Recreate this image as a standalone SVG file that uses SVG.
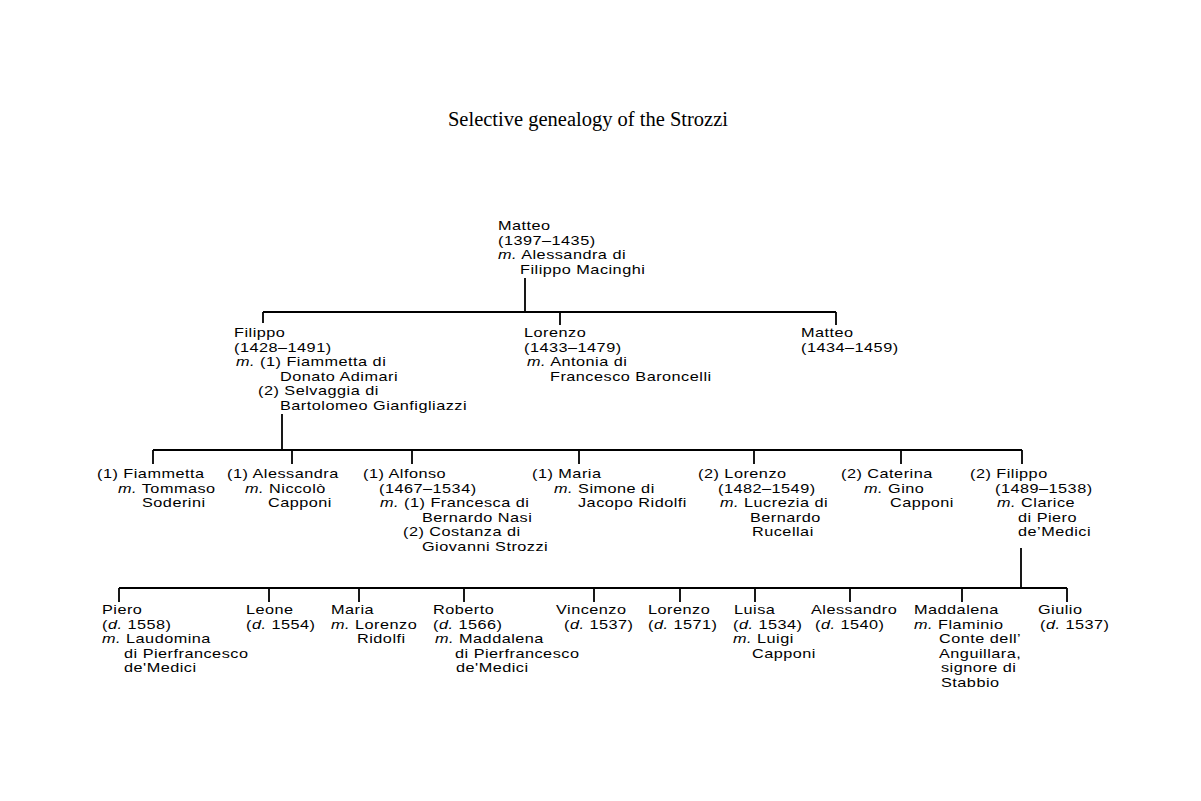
<svg xmlns="http://www.w3.org/2000/svg" width="1201" height="801" viewBox="0 0 1201 801">
<style>
.t{font-family:"Liberation Sans",Arial,sans-serif;font-size:13px;letter-spacing:0.4px;fill:#000}
.i{font-style:italic}
.title{font-family:"Liberation Serif","Times New Roman",serif;font-size:20.5px;fill:#000}
.c{stroke:#000;stroke-width:1.8;fill:none}
</style>
<rect width="1201" height="801" fill="#fff"/>
<text class="title" x="588" y="126" text-anchor="middle">Selective genealogy of the Strozzi</text>
<g id="connectors">
<path class="c" d="M525,278V312M263,312H836M263,312V323M560,312V325M836,312V325"/>
<path class="c" d="M282,414V450M153,450H1022M153,450V464M292,450V464M412,450V464M579,450V464M754,450V464M901,450V464M1022,450V464"/>
<path class="c" d="M1021,548V588M119,588H1067M119,588V602M269,588V602M359,588V602M464,588V602M594,588V602M680,588V602M755,588V602M850,588V602M962,588V602M1067,588V602"/>
</g>
<g id="nodes" transform="scale(1.25 1)">
<g id="matteo" class="t">
<text x="398.4" y="230">Matteo</text>
<text x="398.4" y="244.6">(1397–1435)</text>
<text x="398.4" y="259.2"><tspan class="i">m.</tspan> Alessandra di</text>
<text x="416" y="273.8">Filippo Macinghi</text>
</g>
<g id="filippo1" class="t">
<text x="187.2" y="337">Filippo</text>
<text x="187.2" y="351.6">(1428–1491)</text>
<text x="188.8" y="366.2"><tspan class="i">m.</tspan> (1) Fiammetta di</text>
<text x="224" y="380.8">Donato Adimari</text>
<text x="206.4" y="395.4">(2) Selvaggia di</text>
<text x="224" y="410">Bartolomeo Gianfigliazzi</text>
</g>
<g id="lorenzo1" class="t">
<text x="419.2" y="337">Lorenzo</text>
<text x="419.2" y="351.6">(1433–1479)</text>
<text x="421.6" y="366.2"><tspan class="i">m.</tspan> Antonia di</text>
<text x="440" y="380.8">Francesco Baroncelli</text>
</g>
<g id="matteo2" class="t">
<text x="640.8" y="337">Matteo</text>
<text x="640.8" y="351.6">(1434–1459)</text>
</g>
<g id="fiammetta" class="t">
<text x="77.6" y="478">(1) Fiammetta</text>
<text x="94.4" y="492.6"><tspan class="i">m.</tspan> Tommaso</text>
<text x="113.6" y="507.2">Soderini</text>
</g>
<g id="alessandra" class="t">
<text x="181.6" y="478">(1) Alessandra</text>
<text x="196" y="492.6"><tspan class="i">m.</tspan> Niccolò</text>
<text x="214.4" y="507.2">Capponi</text>
</g>
<g id="alfonso" class="t">
<text x="290.4" y="478">(1) Alfonso</text>
<text x="303.2" y="492.6">(1467–1534)</text>
<text x="304" y="507.2"><tspan class="i">m.</tspan> (1) Francesca di</text>
<text x="337.6" y="521.8">Bernardo Nasi</text>
<text x="322.4" y="536.4">(2) Costanza di</text>
<text x="337.6" y="551">Giovanni Strozzi</text>
</g>
<g id="maria1" class="t">
<text x="425.6" y="478">(1) Maria</text>
<text x="443.2" y="492.6"><tspan class="i">m.</tspan> Simone di</text>
<text x="462.4" y="507.2">Jacopo Ridolfi</text>
</g>
<g id="lorenzo2" class="t">
<text x="558.4" y="478">(2) Lorenzo</text>
<text x="574.4" y="492.6">(1482–1549)</text>
<text x="576" y="507.2"><tspan class="i">m.</tspan> Lucrezia di</text>
<text x="600" y="521.8">Bernardo</text>
<text x="601.6" y="536.4">Rucellai</text>
</g>
<g id="caterina" class="t">
<text x="672.8" y="478">(2) Caterina</text>
<text x="691.2" y="492.6"><tspan class="i">m.</tspan> Gino</text>
<text x="712" y="507.2">Capponi</text>
</g>
<g id="filippo2" class="t">
<text x="776" y="478">(2) Filippo</text>
<text x="796" y="492.6">(1489–1538)</text>
<text x="797.6" y="507.2"><tspan class="i">m.</tspan> Clarice</text>
<text x="814.4" y="521.8">di Piero</text>
<text x="814.4" y="536.4">de’Medici</text>
</g>
<g id="piero" class="t">
<text x="81.6" y="614">Piero</text>
<text x="81.6" y="628.6">(<tspan class="i">d.</tspan> 1558)</text>
<text x="81.6" y="643.2"><tspan class="i">m.</tspan> Laudomina</text>
<text x="99.2" y="657.8">di Pierfrancesco</text>
<text x="99.2" y="672.4">de'Medici</text>
</g>
<g id="leone" class="t">
<text x="196.8" y="614">Leone</text>
<text x="196.8" y="628.6">(<tspan class="i">d.</tspan> 1554)</text>
</g>
<g id="maria2" class="t">
<text x="264.8" y="614">Maria</text>
<text x="264.8" y="628.6"><tspan class="i">m.</tspan> Lorenzo</text>
<text x="285.6" y="643.2">Ridolfi</text>
</g>
<g id="roberto" class="t">
<text x="346.4" y="614">Roberto</text>
<text x="346.4" y="628.6">(<tspan class="i">d.</tspan> 1566)</text>
<text x="348" y="643.2"><tspan class="i">m.</tspan> Maddalena</text>
<text x="364" y="657.8">di Pierfrancesco</text>
<text x="364.8" y="672.4">de'Medici</text>
</g>
<g id="vincenzo" class="t">
<text x="444.8" y="614">Vincenzo</text>
<text x="451.2" y="628.6">(<tspan class="i">d.</tspan> 1537)</text>
</g>
<g id="lorenzo3" class="t">
<text x="518.4" y="614">Lorenzo</text>
<text x="518.4" y="628.6">(<tspan class="i">d.</tspan> 1571)</text>
</g>
<g id="luisa" class="t">
<text x="587.2" y="614">Luisa</text>
<text x="586.4" y="628.6">(<tspan class="i">d.</tspan> 1534)</text>
<text x="586.4" y="643.2"><tspan class="i">m.</tspan> Luigi</text>
<text x="601.6" y="657.8">Capponi</text>
</g>
<g id="alessandro" class="t">
<text x="648.8" y="614">Alessandro</text>
<text x="652" y="628.6">(<tspan class="i">d.</tspan> 1540)</text>
</g>
<g id="maddalena" class="t">
<text x="731.2" y="614">Maddalena</text>
<text x="731.2" y="628.6"><tspan class="i">m.</tspan> Flaminio</text>
<text x="751.2" y="643.2">Conte dell’</text>
<text x="751.2" y="657.8">Anguillara,</text>
<text x="752.8" y="672.4">signore di</text>
<text x="752.8" y="687">Stabbio</text>
</g>
<g id="giulio" class="t">
<text x="830.4" y="614">Giulio</text>
<text x="832" y="628.6">(<tspan class="i">d.</tspan> 1537)</text>
</g>
</g>
</svg>
